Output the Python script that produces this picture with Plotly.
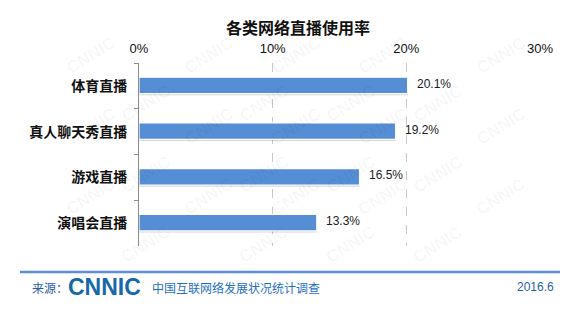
import plotly.graph_objects as go

# Usage rate of each type of online live streaming (%)
categories = ["体育直播", "真人聊天秀直播", "游戏直播", "演唱会直播"]
values = [20.1, 19.2, 16.5, 13.3]
tick_vals = [0, 10, 20, 30]
tick_text = ["0%", "10%", "20%", "30%"]

W, H = 579, 310
L, R, T, B = 139, 39, 63, 64
PW, PH = W - L - R, H - T - B

CJK = "Noto Sans CJK SC, Noto Sans, sans-serif"
LAT = "Liberation Sans, Arial, sans-serif"
BAR = "#558ED5"


def px(x):
    return (x - L) / PW


def py(y):
    return (H - B - y) / PH


fig = go.Figure()

# soft drop shadow under each bar
fig.add_trace(go.Bar(
    y=categories, x=values, orientation="h",
    width=0.37, offset=-0.165,
    marker=dict(color="rgba(0,0,0,0.16)", line=dict(width=0)),
    hoverinfo="skip", showlegend=False,
))
fig.add_trace(go.Bar(
    y=categories, x=values, orientation="h",
    width=0.36, offset=-0.19,
    marker=dict(color=BAR, line=dict(color="white", width=1.2)),
    showlegend=False,
))

annotations = []

# faint CNNIC watermarks behind the chart, kept inside the page
for row in range(6):
    for col in range(5):
        wx = 60 + col * 118 + (row % 2) * 55
        wy = 30 + row * 48
        if wx > 545:
            continue
        annotations.append(dict(
            x=px(wx), y=py(wy), xref="paper", yref="paper",
            text="<b>CNNIC</b>", showarrow=False, textangle=-32,
            font=dict(family=LAT, size=17, color="rgba(0,0,0,0.04)"),
        ))

# value labels at the bar ends
for c, v in zip(categories, values):
    annotations.append(dict(
        x=v, y=c, xref="x", yref="y", text=f"{v:.1f}%",
        showarrow=False, xanchor="left", xshift=7, yshift=2,
        font=dict(family=LAT, size=12, color="#1a1a1a"),
    ))

# footer
FY = py(287)
annotations += [
    dict(x=px(30), y=FY, xref="paper", yref="paper", text="来源：",
         showarrow=False, xanchor="left", yanchor="middle",
         font=dict(family=CJK, size=12, color="#2a5d9f")),
    dict(x=px(66), y=FY, xref="paper", yref="paper", text="<b>CNNIC</b>",
         showarrow=False, xanchor="left", yanchor="middle",
         font=dict(family=LAT, size=23, color="#1668a8")),
    dict(x=px(150), y=FY, xref="paper", yref="paper", text="中国互联网络发展状况统计调查",
         showarrow=False, xanchor="left", yanchor="middle",
         font=dict(family=CJK, size=12, color="#1f6fc5")),
    dict(x=px(556), y=FY, xref="paper", yref="paper", text="2016.6",
         showarrow=False, xanchor="right", yanchor="middle",
         font=dict(family=LAT, size=12, color="#1f5fa8")),
]

shapes = [
    dict(type="line", xref="paper", yref="paper",
         x0=px(20), x1=px(560), y0=py(272), y1=py(272),
         line=dict(color="#5B8FD6", width=2.5)),
]

fig.update_layout(
    width=W, height=H,
    margin=dict(l=L, r=R, t=T, b=B),
    paper_bgcolor="white", plot_bgcolor="white",
    barmode="overlay",
    title=dict(text="<b>各类网络直播使用率</b>", xref="container", x=298 / W,
               xanchor="center", yref="container", y=1 - 28 / H, yanchor="middle",
               font=dict(family=CJK, size=16, color="#111")),
    xaxis=dict(
        side="top", range=[0, 30], tickvals=tick_vals, ticktext=tick_text,
        showgrid=True, gridcolor="#c8c8c8", griddash="dash", gridwidth=1,
        zeroline=False, showline=False, ticks="", ticklabelstandoff=6,
        tickfont=dict(family=LAT, size=13, color="#111"),
    ),
    yaxis=dict(
        autorange="reversed", showgrid=False, zeroline=False,
        showline=True, linecolor="#8c8c8c", linewidth=1,
        ticks="outside", ticklen=4, tickcolor="#8c8c8c",
        tickson="boundaries", ticklabelstandoff=8,
        tickfont=dict(family=CJK, size=14, color="#111", weight="bold"),
    ),
    annotations=annotations,
    shapes=shapes,
)

fig.write_html("out.html")
